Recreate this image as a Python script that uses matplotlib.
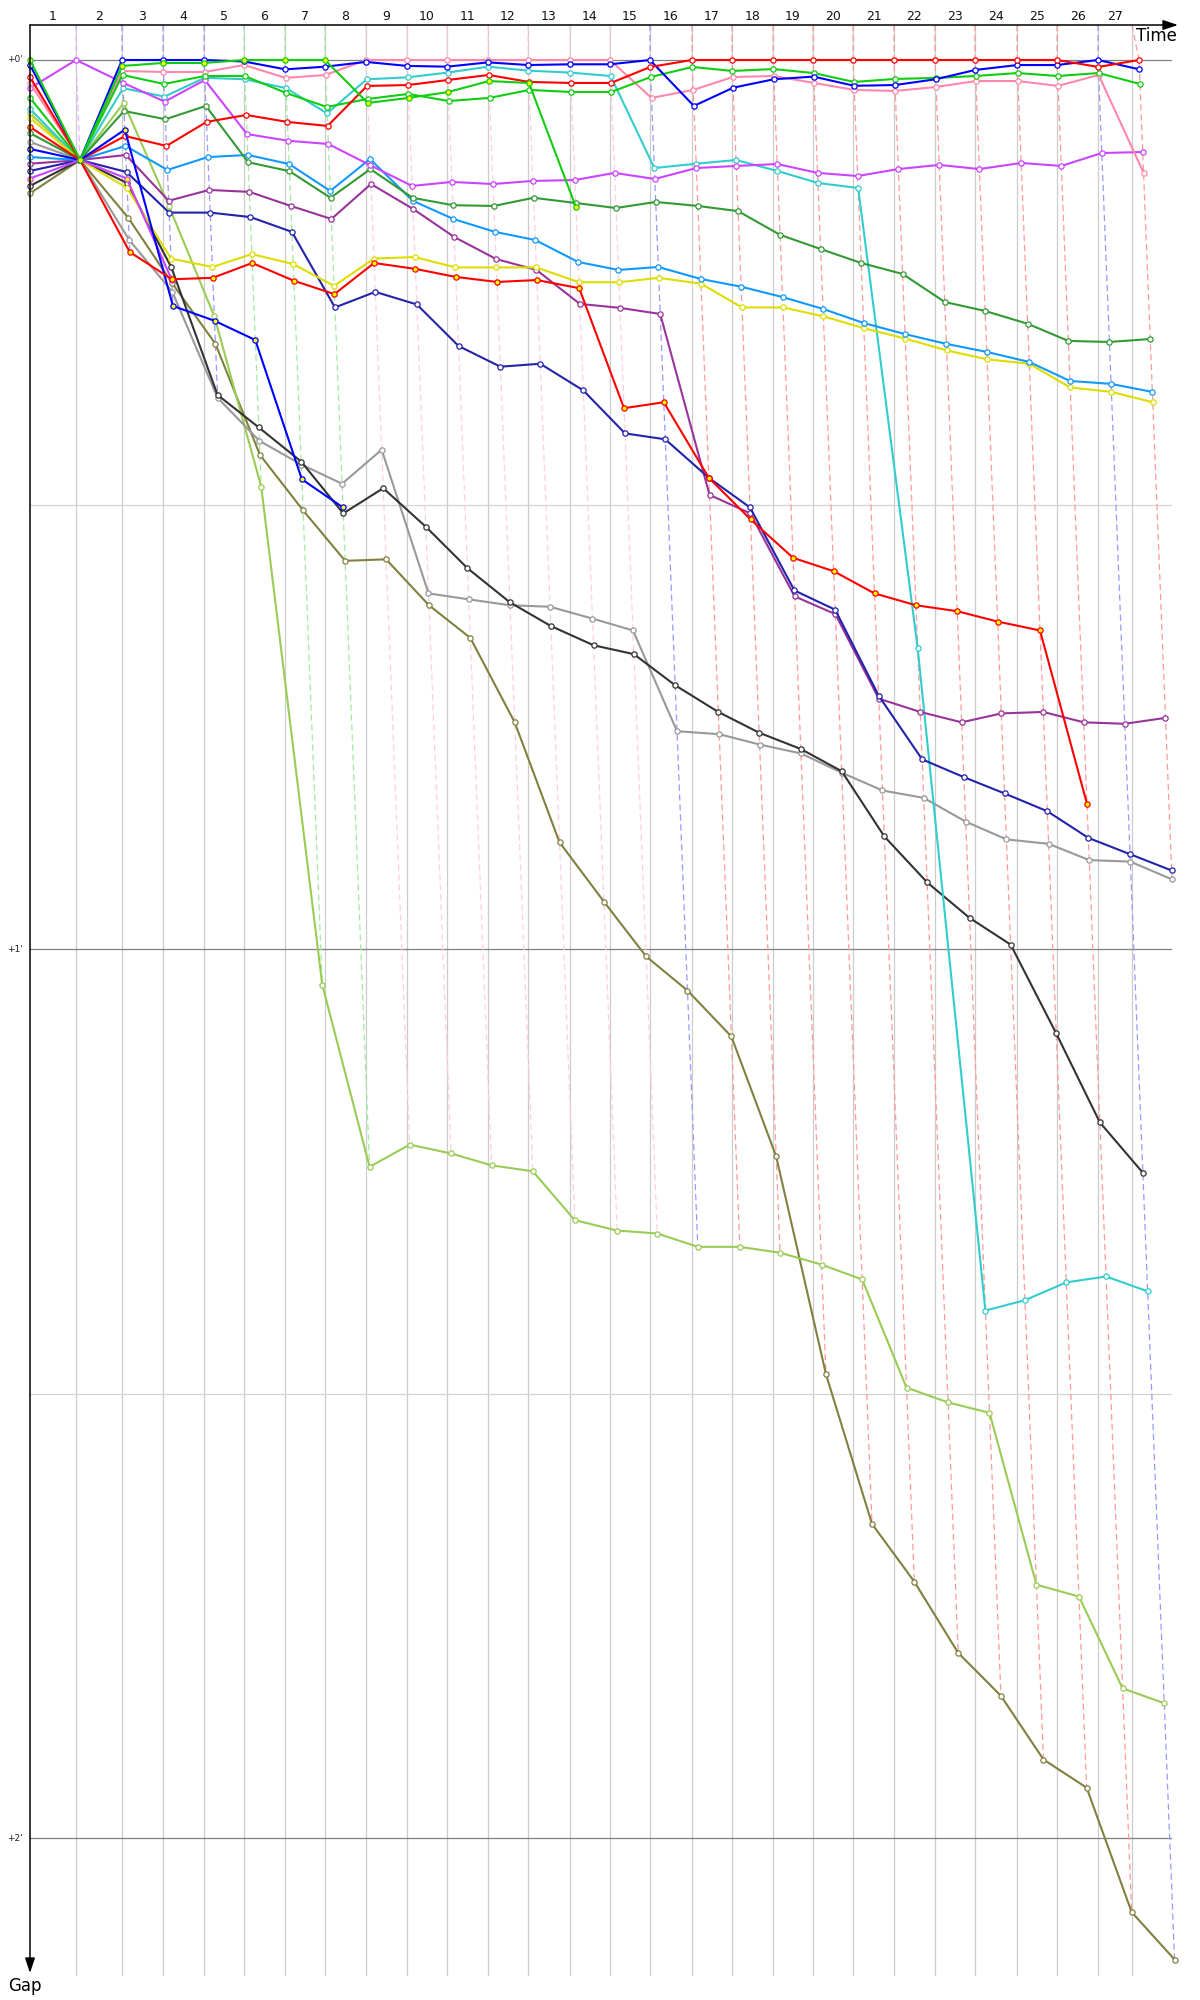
import matplotlib
matplotlib.use("Agg")
import matplotlib.pyplot as plt

# ---------------- data (seconds) ----------------
# cumulative race time of the leader at each line crossing (index 0 = start)
leader_time = [0, 77.1, 154.1, 222.8, 291.5, 358.5, 427.1, 494.1, 562.8, 631.5,
               698.5, 767.2, 834.2, 904.5, 971.5, 1038.5, 1108.9, 1175.9, 1244.6,
               1311.6, 1378.6, 1447.2, 1515.9, 1582.9, 1653.3, 1720.3, 1789.0, 1857.6]
finish_grid_time = 1845.9
lap_labels = [str(i) for i in range(1, 28)]
gap_ticks = [0, 60, 120]
gap_tick_labels = ["+0'", "+1'", "+2'"]
gap_minor = [30, 90]

N = None
gap_red = [1.15, 6.75, 5.13, 5.80, 4.18, 3.71, 4.18, 4.45, 1.75, 1.69, 1.35, 1.01, 1.48, 1.55,
           1.55, 0.47, 0, 0, 0, 0, 0, 0, 0, 0, 0, 0, 0.47, 0]
gap_blue = [0.34, 6.75, 0, 0, 0, 0.1, 0.63, 0.45, 0.13, 0.40, 0.45, 0.16, 0.34, 0.29, 0.29,
            0, 3.1, 1.87, 1.3, 1.12, 1.74, 1.69, 1.3, 0.67, 0.34, 0.34, 0, 0.63]
gap_green = [2.56, 6.75, 1.01, 1.62, 1.08, 1.08, 2.23, 3.17, 2.63, 2.29, 2.77, 2.56, 2.02, 2.16,
             2.16, 1.15, 0.47, 0.74, 0.61, 0.88, 1.48, 1.28, 1.21, 1.08, 0.88, 1.08, 0.88, 1.62]
gap_green2 = [0, 6.75, 0.40, 0.2, 0.2, 0, 0, 0, 2.9, 2.56, 2.16, 1.42, 1.55, 9.92,
              N, N, N, N, N, N, N, N, N, N, N, N, N, N]
gap_pink = [1.55, 6.75, 0.74, 0.81, 0.81, 0.34, 1.21, 1.01, 0, 0, 0, 0, 0, 0, 0, 2.56, 2.02,
            1.15, 1.08, 1.55, 2.02, 2.09, 1.82, 1.42, 1.42, 1.75, 1.01, 7.6]
gap_cyan = [3.3, 6.75, 1.9, 2.47, 1.2, 1.3, 1.9, 3.6, 1.3, 1.17, 0.85, 0.45, 0.72, 0.85, 1.08,
            7.29, 7.0, 6.75, 7.49, 8.3, 8.64, 39.7, 84.4, 83.7, 82.5, 82.1, 83.1, N]
gap_violet = [1.9, 0, 1.53, 2.81, 1.35, 5.0, 5.45, 5.67, 7.1, 8.5, 8.23, 8.37, 8.16, 8.1, 7.62,
              8.03, 7.29, 7.15, 7.02, 7.62, 7.83, 7.36, 7.08, 7.36, 6.95, 7.15, 6.28, 6.21]
gap_darkgreen = [4.93, 6.75, 3.44, 4.0, 3.1, 6.9, 7.5, 9.3, 7.36, 9.3, 9.8, 9.85, 9.3, 9.65, 9.99,
                 9.58, 9.85, 10.2, 11.8, 12.76, 13.7, 14.44, 16.33, 16.94, 17.8, 18.96, 19.03, 18.83]
gap_dodger = [6.55, 6.75, 5.8, 7.42, 6.55, 6.41, 7.02, 8.84, 6.68, 9.5, 10.73, 11.6, 12.15, 13.63,
              14.17, 13.97, 14.78, 15.3, 16.0, 16.8, 17.75, 18.5, 19.16, 19.7, 20.38, 21.66, 21.86, 22.4]
gap_purple = [7.0, 6.75, 6.41, 9.5, 8.77, 8.9, 9.85, 10.73, 8.37, 10.05, 11.94, 13.43, 14.17, 16.46,
              16.73, 17.14, 29.35, 30.6, 36.2, 37.4, 43.1, 44.0, 44.7, 44.1, 44.0, 44.7, 44.8, 44.4]
gap_navy = [7.49, 6.75, 7.56, 10.3, 10.3, 10.6, 11.6, 16.7, 15.65, 16.5, 19.3, 20.7, 20.5, 22.3,
            25.2, 25.6, 28.2, 30.2, 35.8, 37.1, 42.9, 47.2, 48.4, 49.5, 50.7, 52.5, 53.6, 54.7]
gap_yellow = [3.9, 6.75, 8.64, 13.4, 13.97, 13.1, 13.77, 15.25, 13.4, 13.3, 14.0, 14.0, 14.0, 15.0,
              15.0, 14.7, 15.1, 16.7, 16.7, 17.3, 18.1, 18.8, 19.6, 20.2, 20.5, 22.1, 22.4, 23.1]
gap_gray = [5.53, 6.75, 12.15, 15.65, 22.8, 25.7, 27.3, 28.6, 26.3, 36.0, 36.4, 36.8, 36.9, 37.7,
            38.5, 45.3, 45.5, 46.2, 46.8, 48.1, 49.3, 49.8, 51.4, 52.6, 52.9, 54.0, 54.1, 55.3]
gap_black = [8.5, 6.75, 8.3, 14.0, 22.6, 24.8, 27.1, 30.6, 28.9, 31.5, 34.3, 36.6, 38.2, 39.5,
             40.1, 42.2, 44.0, 45.4, 46.5, 48.0, 52.4, 55.5, 57.9, 59.7, 65.7, 71.7, 75.1, N]
gap_olive = [9.0, 6.75, 10.66, 15.05, 19.16, 26.65, 30.4, 33.8, 33.7, 36.8, 39.0, 44.7, 52.8, 56.8,
             60.5, 62.8, 65.9, 74.0, 88.7, 98.8, 102.7, 107.5, 110.4, 114.7, 116.6, 125.0, 128.2, N]
gap_yellowgreen = [3.6, 6.75, 2.9, 9.85, 17.3, 28.8, 62.4, 74.7, 73.2, 73.8, 74.6, 75.0, 78.3, 79.0,
                   79.2, 80.1, 80.1, 80.5, 81.3, 82.3, 89.6, 90.6, 91.3, 102.9, 103.7, 109.9, 110.9, N]
gap_red2 = [4.52, 6.75, 12.96, 14.8, 14.7, 13.7, 14.9, 15.8, 13.7, 14.1, 14.64, 14.98, 14.85, 15.4,
            23.5, 23.1, 28.2, 31.0, 33.6, 34.5, 36.0, 36.8, 37.2, 37.9, 38.5, 50.2, N, N]
gap_blue2 = [6.0, 6.75, 4.7, 16.6, 17.6, 18.9, 28.3, 30.2,
             N, N, N, N, N, N, N, N, N, N, N, N, N, N, N, N, N, N, N, N]
gap_violet2 = [8.0, 6.75, 8.0, 14.85,
               N, N, N, N, N, N, N, N, N, N, N, N, N, N, N, N, N, N, N, N, N, N, N, N]

# (gaps, colour, marker face) ; drawing order bottom -> top
series = [
    (gap_olive, "#808040", "white"),
    (gap_yellowgreen, "#99CC55", "white"),
    (gap_gray, "#999999", "white"),
    (gap_black, "#333333", "white"),
    (gap_cyan, "#33CCCC", "white"),
    (gap_purple, "#993399", "white"),
    (gap_navy, "#2222AA", "white"),
    (gap_yellow, "#DDDD00", "white"),
    (gap_dodger, "#1199FF", "white"),
    (gap_darkgreen, "#339933", "white"),
    (gap_violet, "#CC44FF", "white"),
    (gap_pink, "#FF88AA", "white"),
    (gap_green, "#11CC11", "white"),
    (gap_blue, "#0000FF", "white"),
    (gap_red, "#FF0000", "white"),
    (gap_violet2, "#CC44FF", "#FFFF00"),
    (gap_blue2, "#0000FF", "#FFFF00"),
    (gap_red2, "#FF0000", "#FFFF00"),
    (gap_green2, "#11CC11", "#FFFF00"),
]

# ---------------- layout (pixel scale of the reference) ----------------
W, H = 1200, 2000
KX = 0.597     # px per second along time
KY = 14.817    # px per second of gap
X0, Y0 = 30, 60


def tx(px):
    return (px - X0) / KX


def gy(py):
    return (py - Y0) / KY


fig = plt.figure(figsize=(W / 100, H / 100), dpi=100)
ax = fig.add_axes([0, 0, 1, 1])
ax.set_xlim(tx(0), tx(W))
ax.set_ylim(gy(H), gy(0))
ax.axis("off")

grid_time = leader_time[:-1] + [finish_grid_time]
top = gy(25)
bottom = gy(1975)

# vertical lap grid lines
for t in grid_time[1:]:
    ax.plot([t, t], [top, bottom], color="#CCCCCC", lw=0.9, zorder=1)

# horizontal gap lines
for g in gap_minor:
    ax.plot([0, tx(1171)], [g, g], color="#D4D4D4", lw=0.9, zorder=1)
for g, lab in zip(gap_ticks, gap_tick_labels):
    ax.plot([0, tx(1171)], [g, g], color="#808080", lw=0.9, zorder=1.5)
    ax.text(tx(23), g, lab, ha="right", va="center", fontsize=6.5, color="#222222")

# lap labels
for k, lab in enumerate(lap_labels, start=1):
    ax.text((grid_time[k - 1] + grid_time[k]) / 2, gy(17), lab, ha="center", va="center",
            fontsize=9, color="#111111")


def lighten(c, a=0.35):
    r, g, b = matplotlib.colors.to_rgb(c)
    return (1 - a * (1 - r), 1 - a * (1 - g), 1 - a * (1 - b))


# dashed "lap lines" through every car's crossing of the same lap
for i in range(1, len(leader_time)):
    vals = [(s[0][i], s[1]) for s in series if s[0][i] is not None]
    gmax = max(v for v, _ in vals)
    lead_col = min(vals, key=lambda v: v[0])[1]
    xs = [grid_time[i], leader_time[i], leader_time[i] + gmax]
    ys = [top, 0, gmax]
    ax.plot(xs, ys, color=lighten(lead_col, 0.4), lw=0.9, dashes=(5, 3), zorder=2)

# driver lines
for gaps, col, face in series:
    xs, ys = [], []
    for i, g in enumerate(gaps):
        if g is None:
            continue
        xs.append(0 if i == 0 else leader_time[i] + g)
        ys.append(g)
    ax.plot(xs, ys, color=col, lw=1.5, marker="o", ms=3.8, mfc=face, mec=col, mew=0.9,
            zorder=3, solid_joinstyle="round")

# axes with arrows
arrow = dict(arrowstyle="-|>,head_length=0.9,head_width=0.3", color="black", lw=1.1,
             mutation_scale=10, shrinkA=0, shrinkB=0)
ax.annotate("", xy=(tx(1178), top), xytext=(0, top), arrowprops=arrow, zorder=5)
ax.annotate("", xy=(0, gy(1973)), xytext=(0, top), arrowprops=arrow, zorder=5)
ax.text(tx(1177), gy(36), "Time", ha="right", va="center", fontsize=12, color="black")
ax.text(tx(25), gy(1986), "Gap", ha="center", va="center", fontsize=12, color="black")

fig.savefig("out.png", dpi=100)
